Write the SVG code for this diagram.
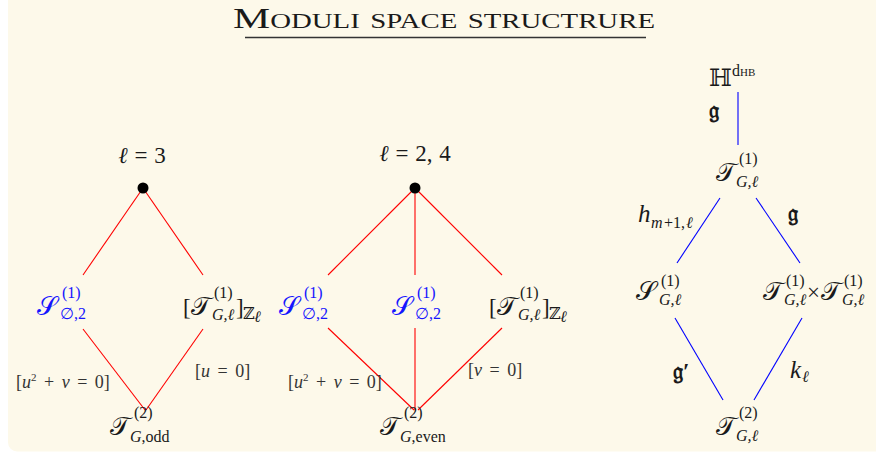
<svg xmlns="http://www.w3.org/2000/svg" width="876" height="452" viewBox="0 0 876 452">
<style>
.m{font-family:"Liberation Serif","DejaVu Serif",serif;font-size:23px;fill:#1a1a1a}
.c{font-size:26px;font-style:normal}
.i{font-style:italic}
.s{font-size:16px}
.b{fill:#1515ff}
.lab{font-family:"Liberation Serif","DejaVu Serif",serif;font-size:18px;fill:#333;word-spacing:3px}
.r{stroke:#ff0000;stroke-width:1.1;fill:none}
.bl{stroke:#0000ff;stroke-width:1.1;fill:none}
</style>
<rect x="0" y="0" width="876" height="452" fill="#ffffff"/>
<rect x="8" y="-10" width="880" height="461.5" rx="9" fill="#fdf9ea"/>
<g id="title">
<text x="444" y="28" text-anchor="middle" font-family="Liberation Serif,serif" font-size="29" font-variant="small-caps" fill="#1a1a1a" textLength="422" lengthAdjust="spacingAndGlyphs">Moduli space structrure</text>
<line x1="245" y1="37.5" x2="646" y2="37.5" stroke="#333" stroke-width="1.3"/>
</g>
<g id="connectors">
<line class="r" stroke="#ff0000" x1="143" y1="188" x2="83" y2="275"/>
<line class="r" stroke="#ff0000" x1="143" y1="188" x2="203" y2="275"/>
<line class="r" stroke="#ff0000" x1="83" y1="329" x2="145" y2="410"/>
<line class="r" stroke="#ff0000" x1="203" y1="329" x2="146" y2="410"/>
<line class="r" stroke="#ff0000" x1="415" y1="188" x2="328" y2="275"/>
<line class="r" stroke="#ff0000" x1="415" y1="188" x2="415" y2="275"/>
<line class="r" stroke="#ff0000" x1="415" y1="188" x2="502" y2="275"/>
<line class="r" stroke="#ff0000" x1="328" y1="328" x2="414" y2="410"/>
<line class="r" stroke="#ff0000" x1="415" y1="328" x2="415" y2="410"/>
<line class="r" stroke="#ff0000" x1="502" y1="328" x2="418" y2="410"/>
<line class="bl" x1="738" y1="92" x2="738" y2="145"/>
<line class="bl" x1="720" y1="198" x2="677" y2="263"/>
<line class="bl" x1="756" y1="198" x2="800" y2="263"/>
<line class="bl" x1="675" y1="318" x2="723" y2="400"/>
<line class="bl" x1="802" y1="318" x2="754" y2="400"/>
</g>
<g id="left-top">
<text class="m" x="142" y="163" text-anchor="middle" font-size="27" word-spacing="1"><tspan class="i">ℓ</tspan> = 3</text>
<circle cx="143" cy="188" r="5.5" fill="#000"/>
</g>
<g id="left-S">
<text class="m b"><tspan class="c" x="37" y="315">𝒮</tspan><tspan class="s" x="62" y="298">(1)</tspan><tspan class="s" x="60" y="319">∅,2</tspan></text>
</g>
<g id="left-T">
<text class="m"><tspan x="183" y="315">[</tspan><tspan class="c" x="191" y="315">𝒯</tspan><tspan class="s" x="214" y="298">(1)</tspan><tspan class="s i" x="212" y="320">G,ℓ</tspan><tspan x="236" y="315">]</tspan><tspan class="s" x="243" y="319" font-size="15">ℤ</tspan><tspan class="s i" x="254" y="322" font-size="11">ℓ</tspan></text>
</g>
<g id="left-bottom">
<text class="m"><tspan class="c" x="110" y="435">𝒯</tspan><tspan class="s" x="134" y="418">(2)</tspan><tspan class="s" x="130" y="442"><tspan class="i">G</tspan>,odd</tspan></text>
</g>
<g id="left-labels">
<text class="lab" x="16" y="388">[<tspan class="i">u</tspan><tspan font-size="11" dy="-7">2</tspan><tspan dy="7"> + </tspan><tspan class="i">v</tspan> = 0]</text>
<text class="lab" x="195" y="377">[<tspan class="i">u</tspan> = 0]</text>
</g>
<g id="mid-top">
<text class="m" x="415" y="161" text-anchor="middle" font-size="27" word-spacing="1"><tspan class="i">ℓ</tspan> = 2, 4</text>
<circle cx="415" cy="188" r="5.5" fill="#000"/>
</g>
<g id="mid-S1">
<text class="m b"><tspan class="c" x="279" y="315">𝒮</tspan><tspan class="s" x="304" y="298">(1)</tspan><tspan class="s" x="302" y="319">∅,2</tspan></text>
</g>
<g id="mid-S2">
<text class="m b"><tspan class="c" x="392" y="315">𝒮</tspan><tspan class="s" x="417" y="298">(1)</tspan><tspan class="s" x="415" y="319">∅,2</tspan></text>
</g>
<g id="mid-T">
<text class="m"><tspan x="489" y="315">[</tspan><tspan class="c" x="497" y="315">𝒯</tspan><tspan class="s" x="520" y="298">(1)</tspan><tspan class="s i" x="518" y="320">G,ℓ</tspan><tspan x="542" y="315">]</tspan><tspan class="s" x="549" y="319" font-size="15">ℤ</tspan><tspan class="s i" x="560" y="322" font-size="11">ℓ</tspan></text>
</g>
<g id="mid-bottom">
<text class="m"><tspan class="c" x="380" y="435">𝒯</tspan><tspan class="s" x="404" y="418">(2)</tspan><tspan class="s" x="400" y="442"><tspan class="i">G</tspan>,even</tspan></text>
</g>
<g id="mid-labels">
<text class="lab" x="288" y="388">[<tspan class="i">u</tspan><tspan font-size="11" dy="-7">2</tspan><tspan dy="7"> + </tspan><tspan class="i">v</tspan> = 0]</text>
<text class="lab" x="468" y="376">[<tspan class="i">v</tspan> = 0]</text>
</g>
<g id="right-H">
<text class="m"><tspan x="709" y="86" font-size="24">ℍ</tspan><tspan class="s" x="732" y="76">d<tspan font-size="11">HB</tspan></tspan></text>
</g>
<g id="right-T1">
<text class="m"><tspan class="c" x="716" y="181">𝒯</tspan><tspan class="s" x="739" y="164">(1)</tspan><tspan class="s i" x="736" y="187">G,ℓ</tspan></text>
</g>
<g id="right-S">
<text class="m"><tspan class="c" x="636" y="300">𝒮</tspan><tspan class="s" x="661" y="286">(1)</tspan><tspan class="s i" x="659" y="305">G,ℓ</tspan></text>
</g>
<g id="right-TT">
<text class="m"><tspan class="c" x="763" y="300">𝒯</tspan><tspan class="s" x="786" y="286">(1)</tspan><tspan class="s i" x="784" y="305">G,ℓ</tspan><tspan x="807" y="300">×</tspan><tspan class="c" x="821" y="300">𝒯</tspan><tspan class="s" x="844" y="286">(1)</tspan><tspan class="s i" x="842" y="305">G,ℓ</tspan></text>
</g>
<g id="right-T2">
<text class="m"><tspan class="c" x="716" y="435">𝒯</tspan><tspan class="s" x="739" y="418">(2)</tspan><tspan class="s i" x="736" y="441">G,ℓ</tspan></text>
</g>
<g id="right-labels">
<text class="m" x="709" y="118" font-weight="bold">𝔤</text>
<text class="m"><tspan class="i" x="638" y="222" font-size="25">h</tspan><tspan class="s i" x="651" y="228">m</tspan><tspan class="s" x="664" y="228">+1,</tspan><tspan class="s i" x="686" y="228">ℓ</tspan></text>
<text class="m" x="788" y="221" font-weight="bold">𝔤</text>
<text class="m" x="673" y="379" font-weight="bold">𝔤′</text>
<text class="m"><tspan class="i" x="790" y="378" font-size="25">k</tspan><tspan class="s i" x="802" y="382">ℓ</tspan></text>
</g>
</svg>
